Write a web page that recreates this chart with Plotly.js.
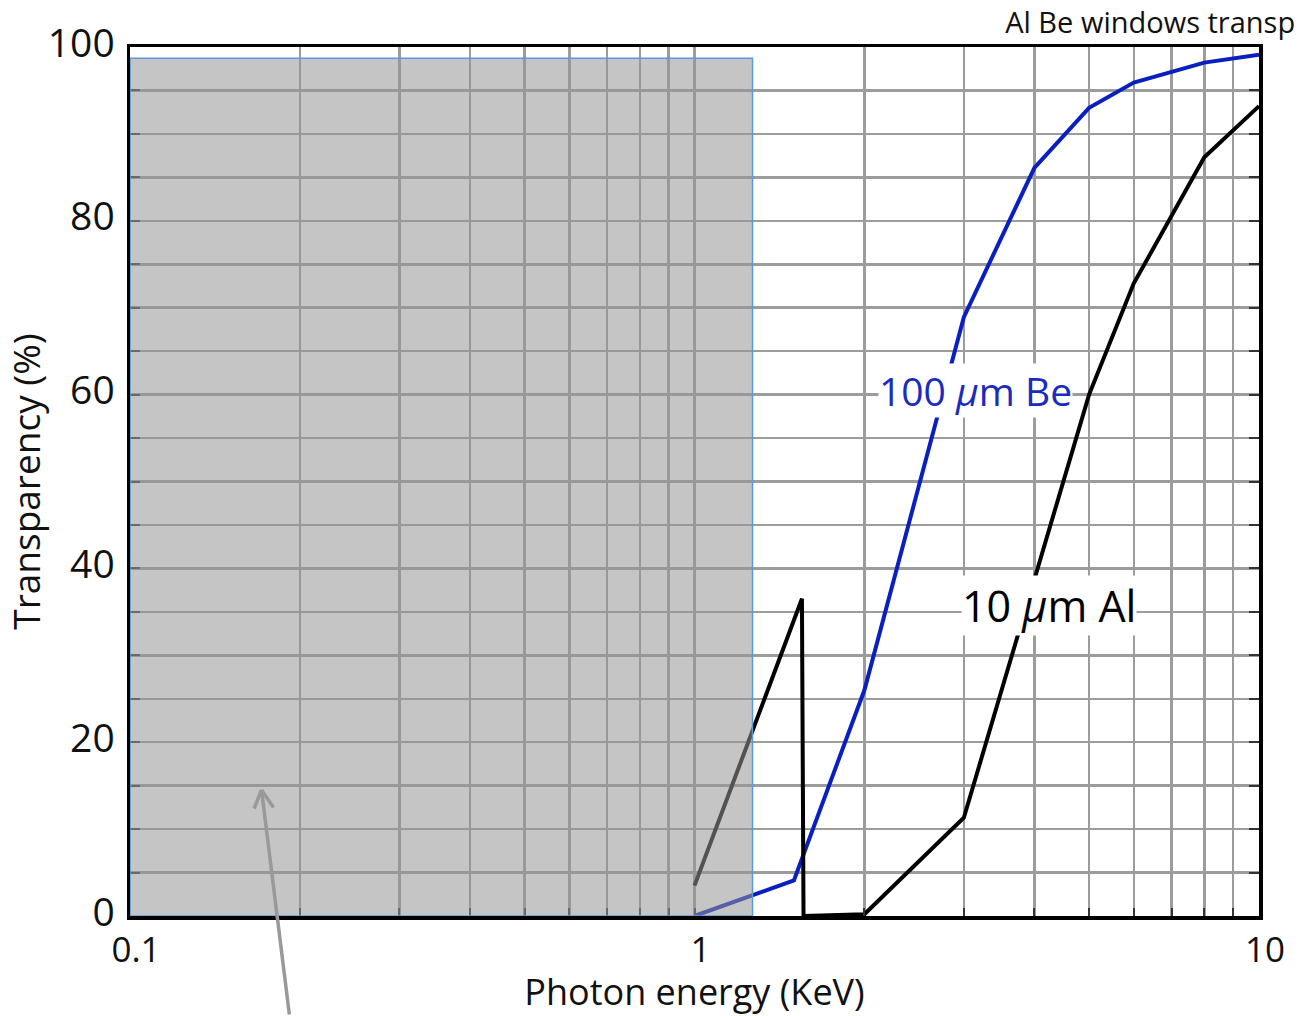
<!DOCTYPE html>
<html>
<head>
<meta charset="utf-8">
<script src="https://cdn.plot.ly/plotly-3.0.1.min.js"></script>
<style>html,body{margin:0;padding:0;background:#fff;}#chart{width:1303px;height:1016px;}</style>
</head>
<body>
<div id="chart"></div>
<script>
// Data
const beEnergy = [1, 1.5, 2, 3, 4, 5, 6, 8, 10];
const beTransp = [0, 4.1, 26, 68.9, 86.1, 93, 95.9, 98.2, 99.1];

const alEnergy = [1, 1.55, 1.56, 2, 3, 4, 5, 6, 8, 10];
const alTransp = [3.5, 36.5, 0, 0.2, 11.3, 38.6, 60, 72.8, 87.3, 93.2];

const xTickVals = [0.1, 1, 10];
const xTickText = ['0.1', '1', '10'];
const xMinorVals = [0.2,0.3,0.4,0.5,0.6,0.7,0.8,0.9,2,3,4,5,6,7,8,9];
const yTickVals = [0, 20, 40, 60, 80, 100];

// shaded (excluded) region
const shadeX = [0.1, 1.267];
const shadeY = [0, 98.7];

const labelBe = {text: '100 <i>μ</i>m Be', x: 3.14, y: 60.5};
const labelAl = {text: '10 <i>μ</i>m Al', x: 4.25, y: 35.7};
const arrowTip = {x: 0.171, y: 14.5};

const FONT = '"Open Sans", "DejaVu Sans", sans-serif';
const gridC = '#9c9c9c';

const traces = [
  {x: beEnergy, y: beTransp, type: 'scatter', mode: 'lines',
   line: {color: '#0a1fbf', width: 4}, name: '100 μm Be', showlegend: false},
  {x: alEnergy, y: alTransp, type: 'scatter', mode: 'lines',
   line: {color: '#000000', width: 4}, name: '10 μm Al', showlegend: false}
];

const tipX = Math.log10(arrowTip.x);
const arrowStyle = {xref: 'x', yref: 'y', x: tipX, y: arrowTip.y, text: '', showarrow: true,
  arrowhead: 0, arrowwidth: 3.5, arrowcolor: '#999', standoff: 0, startstandoff: 0};

const layout = {
  width: 1303, height: 1016,
  margin: {l: 130, r: 44, t: 47, b: 100},
  paper_bgcolor: '#fff', plot_bgcolor: '#fff',
  font: {family: FONT, color: '#111'},
  showlegend: false,
  title: {text: 'Al Be windows transp', x: 0.994, xanchor: 'right', xref: 'container',
          y: 0.978, yanchor: 'middle', yref: 'container',
          font: {family: FONT, size: 29, color: '#111'}},
  xaxis: {
    type: 'log', range: [-1, 1],
    tickmode: 'array', tickvals: xTickVals, ticktext: xTickText,
    ticks: 'inside', ticklen: 8, tickwidth: 2, tickcolor: '#333',
    ticklabelshift: 6, ticklabelstandoff: 0,
    showgrid: true, gridcolor: gridC, gridwidth: 2.5,
    minor: {tickmode: 'array', tickvals: xMinorVals, showgrid: true, gridcolor: gridC, gridwidth: 2.5,
            ticks: 'inside', ticklen: 8, tickcolor: '#333', tickwidth: 2},
    showline: true, linecolor: '#000', linewidth: 3.5, mirror: true,
    zeroline: false,
    tickfont: {family: FONT, size: 35, color: '#111'},
    title: {text: 'Photon energy (KeV)', font: {family: FONT, size: 36, color: '#111'}, standoff: 14}
  },
  yaxis: {
    range: [0, 100],
    tickmode: 'array', tickvals: yTickVals,
    ticks: 'inside', ticklen: 10, tickwidth: 2, tickcolor: '#333',
    ticklabelshift: -4, ticklabelstandoff: 4,
    showgrid: true, gridcolor: gridC, gridwidth: 2.5,
    minor: {dtick: 5, showgrid: true, gridcolor: gridC, gridwidth: 2.5,
            ticks: 'inside', ticklen: 10, tickcolor: '#333', tickwidth: 2},
    showline: true, linecolor: '#000', linewidth: 3.5, mirror: 'ticks',
    zeroline: false,
    tickfont: {family: FONT, size: 39, color: '#111'},
    title: {text: 'Transparency (%)', font: {family: FONT, size: 37, color: '#111'}, standoff: 6}
  },
  shapes: [
    {type: 'rect', xref: 'x', yref: 'y', layer: 'above',
     x0: shadeX[0], x1: shadeX[1], y0: shadeY[0], y1: shadeY[1],
     fillcolor: 'rgba(150,150,150,0.55)', line: {color: '#5b9bd5', width: 1.5}}
  ],
  annotations: [
    {x: Math.log10(labelBe.x), y: labelBe.y, xref: 'x', yref: 'y', text: labelBe.text,
     showarrow: false, bgcolor: '#fff', borderpad: 0,
     font: {family: FONT, size: 39, color: '#1a2bbf'}},
    {x: Math.log10(labelAl.x), y: labelAl.y, xref: 'x', yref: 'y', text: labelAl.text,
     showarrow: false, bgcolor: '#fff', borderpad: 0,
     font: {family: FONT, size: 43, color: '#000'}},
    Object.assign({}, arrowStyle, {ax: 28, ay: 230}),
    Object.assign({}, arrowStyle, {ax: -8, ay: 20}),
    Object.assign({}, arrowStyle, {ax: 13, ay: 19})
  ]
};

Plotly.newPlot('chart', traces, layout, {displayModeBar: false, staticPlot: true});
</script>
</body>
</html>
